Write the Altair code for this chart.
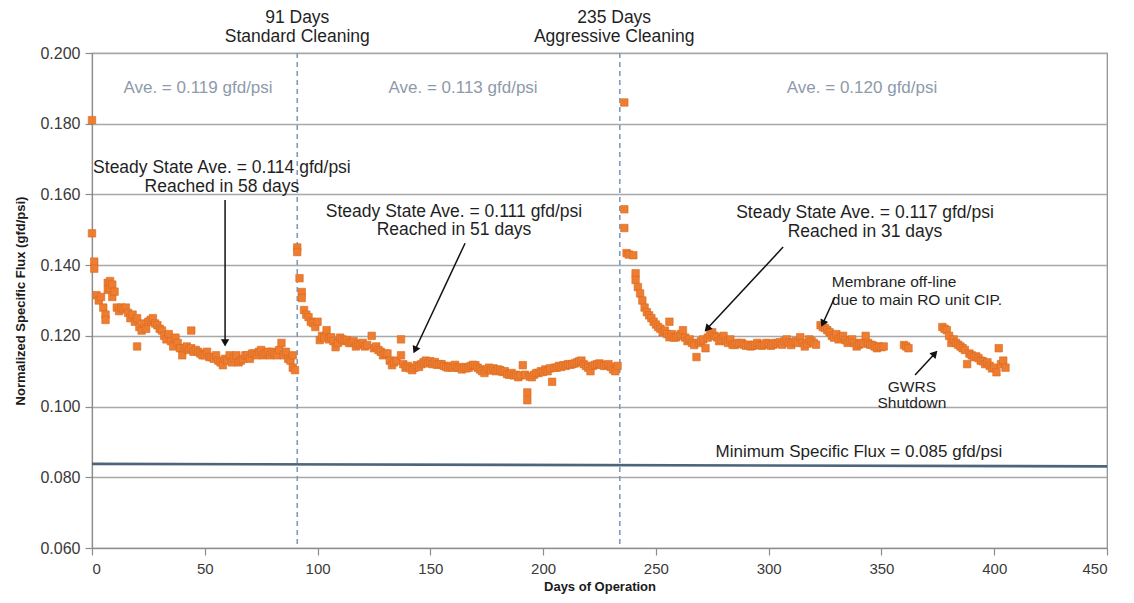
import math
import altair as alt
import pandas as pd

# ---------------- data ----------------
days1 = [
    0, 0, 1, 1, 2, 3, 4, 5, 6, 6,
    7, 7, 8, 8, 9, 9, 10, 11, 12, 13,
    14, 15, 16, 17, 18, 19, 20, 20, 21, 22,
    23, 24, 25, 26, 27, 28, 29, 30, 31, 32,
    33, 34, 35, 36, 37, 38, 39, 40, 41, 42,
    43, 44, 44, 45, 46, 47, 48, 49, 50, 51,
    52, 53, 54, 55, 56, 57, 58, 59, 60, 61,
    62, 63, 64, 65, 66, 67, 68, 69, 70, 71,
    72, 73, 74, 75, 76, 77, 78, 79, 80, 81,
    82, 83, 84, 85, 86, 87, 88, 89, 89, 90]
flux1 = [
    0.181, 0.149, 0.141, 0.139, 0.1315, 0.130, 0.131, 0.128, 0.126, 0.1245,
    0.135, 0.133, 0.1355, 0.1335, 0.1345, 0.131, 0.1325, 0.128, 0.127, 0.128,
    0.1275, 0.128, 0.1265, 0.125, 0.126, 0.124, 0.125, 0.117, 0.1225, 0.1215,
    0.1235, 0.122, 0.124, 0.1245, 0.125, 0.1235, 0.123, 0.122, 0.1215, 0.120,
    0.119, 0.1205, 0.1185, 0.117, 0.1195, 0.118, 0.1165, 0.1145, 0.1165, 0.117,
    0.116, 0.1215, 0.1165, 0.1155, 0.116, 0.1155, 0.115, 0.1145, 0.1145, 0.1155,
    0.114, 0.114, 0.1135, 0.1145, 0.113, 0.1125, 0.1117, 0.1135, 0.113, 0.1145,
    0.1125, 0.1137, 0.1145, 0.1125, 0.113, 0.1135, 0.1145, 0.1145, 0.1135, 0.115,
    0.115, 0.1145, 0.1155, 0.116, 0.1145, 0.115, 0.1155, 0.1145, 0.1155, 0.115,
    0.1145, 0.116, 0.118, 0.1145, 0.1155, 0.1135, 0.113, 0.111, 0.1145, 0.1103]

days2 = [
    91, 91, 92, 93, 93, 94, 95, 96, 97, 98,
    99, 100, 101, 102, 103, 104, 105, 106, 107, 108,
    109, 110, 111, 112, 113, 114, 115, 116, 117, 118,
    119, 120, 121, 122, 124, 125, 126, 127, 128, 129,
    130, 131, 132, 133, 134, 135, 137, 137, 138, 139,
    140, 141, 142, 143, 144, 145, 146, 147, 148, 149,
    150, 151, 152, 153, 154, 155, 156, 157, 158, 159,
    160, 161, 162, 163, 164, 165, 166, 167, 168, 169,
    170, 171, 172, 173, 174, 175, 176, 177, 178, 179,
    180, 181, 182, 183, 184, 185, 186, 187, 188, 189,
    190, 191, 192, 193, 193, 194, 195, 196, 197, 198,
    199, 200, 201, 202, 203, 204, 205, 206, 207, 208,
    209, 210, 211, 212, 213, 214, 215, 216, 217, 218,
    219, 220, 221, 222, 223, 224, 225, 226, 227, 228,
    229, 230, 231, 232, 233]
flux2 = [
    0.145, 0.1437, 0.1363, 0.1324, 0.1307, 0.1273, 0.126, 0.1253, 0.124, 0.1236,
    0.1225, 0.124, 0.1188, 0.120, 0.1195, 0.1216, 0.119, 0.1196, 0.1185, 0.1168,
    0.118, 0.1195, 0.119, 0.1185, 0.1188, 0.118, 0.118, 0.1185, 0.117, 0.1178,
    0.1175, 0.118, 0.117, 0.1174, 0.120, 0.1165, 0.117, 0.116, 0.1155, 0.1145,
    0.115, 0.115, 0.113, 0.1117, 0.1125, 0.113, 0.119, 0.1145, 0.112, 0.111,
    0.1115, 0.1108, 0.1103, 0.111, 0.1117, 0.1112, 0.112, 0.1125, 0.113, 0.1122,
    0.1128, 0.112, 0.1126, 0.1118, 0.112, 0.112, 0.1115, 0.1112, 0.111, 0.1115,
    0.111, 0.1118, 0.111, 0.111, 0.1105, 0.1112, 0.1108, 0.111, 0.1115, 0.1118,
    0.1117, 0.111, 0.1105, 0.110, 0.1095, 0.1105, 0.111, 0.1102, 0.1108, 0.110,
    0.1105, 0.1103, 0.1098, 0.110, 0.1092, 0.109, 0.1095, 0.1088, 0.109, 0.1083,
    0.1088, 0.1117, 0.109, 0.104, 0.1018, 0.1085, 0.1083, 0.109, 0.1095, 0.1095,
    0.110, 0.1098, 0.1105, 0.110, 0.1108, 0.107, 0.111, 0.111, 0.1115, 0.1112,
    0.1117, 0.1115, 0.112, 0.1118, 0.112, 0.1122, 0.1125, 0.1128, 0.113, 0.112,
    0.1115, 0.111, 0.110, 0.1115, 0.1118, 0.112, 0.1122, 0.1118, 0.1115, 0.1117,
    0.112, 0.1112, 0.1105, 0.110, 0.1115]

days3 = [
    236, 236, 236, 237, 238, 240, 241, 241, 242, 243,
    244, 245, 246, 247, 248, 249, 250, 251, 252, 253,
    254, 255, 256, 256, 257, 258, 259, 260, 261, 262,
    263, 264, 265, 266, 267, 268, 269, 270, 271, 272,
    273, 274, 275, 276, 277, 278, 279, 280, 281, 282,
    283, 284, 285, 286, 287, 288, 289, 290, 291, 292,
    293, 294, 295, 296, 297, 298, 299, 300, 301, 302,
    303, 304, 305, 306, 307, 308, 309, 310, 311, 312,
    313, 314, 315, 316, 317, 318, 319, 320, 321, 323,
    324, 325, 326, 327, 328, 329, 330, 331, 332, 333,
    334, 335, 336, 337, 338, 339, 340, 341, 342, 343,
    344, 345, 346, 347, 348, 349, 350, 351, 360, 361,
    362, 377, 378, 379, 380, 381, 382, 383, 384, 385,
    386, 387, 388, 389, 390, 391, 392, 393, 394, 395,
    396, 397, 398, 399, 400, 401, 402, 403, 404, 405]
flux3 = [
    0.186, 0.1558, 0.1505, 0.1434, 0.143, 0.1428, 0.1377, 0.1358, 0.1338, 0.132,
    0.130, 0.128, 0.1267, 0.1258, 0.125, 0.124, 0.1232, 0.1225, 0.122, 0.121,
    0.1215, 0.1205, 0.124, 0.1196, 0.1205, 0.1195, 0.1196, 0.120, 0.1205, 0.1216,
    0.1195, 0.1185, 0.119, 0.118, 0.1174, 0.114, 0.118, 0.1185, 0.119, 0.1165,
    0.1195, 0.1205, 0.121, 0.120, 0.1196, 0.1185, 0.119, 0.120, 0.1185, 0.118,
    0.119, 0.1175, 0.1174, 0.118, 0.1178, 0.118, 0.1175, 0.1172, 0.1175, 0.117,
    0.1172, 0.1175, 0.118, 0.1174, 0.1172, 0.1175, 0.118, 0.1178, 0.1172, 0.1175,
    0.118, 0.1178, 0.1182, 0.1175, 0.1185, 0.119, 0.118, 0.1174, 0.1182, 0.1185,
    0.118, 0.1196, 0.118, 0.117, 0.1178, 0.119, 0.1185, 0.118, 0.1175, 0.123,
    0.1225, 0.1222, 0.1216, 0.121, 0.120, 0.1195, 0.1205, 0.119, 0.1195, 0.120,
    0.1188, 0.118, 0.1185, 0.119, 0.118, 0.117, 0.1175, 0.118, 0.1178, 0.120,
    0.118, 0.1175, 0.1174, 0.117, 0.1165, 0.117, 0.1168, 0.117, 0.1174, 0.117,
    0.1165, 0.1225, 0.122, 0.1216, 0.120, 0.118, 0.119, 0.118, 0.1175, 0.117,
    0.1165, 0.116, 0.112, 0.115, 0.1145, 0.114, 0.1142, 0.1137, 0.113, 0.1128,
    0.112, 0.1125, 0.1115, 0.1108, 0.111, 0.1097, 0.1165, 0.112, 0.113, 0.111]

assert len(days1) == len(flux1)
assert len(days2) == len(flux2)
assert len(days3) == len(flux3)

cleaning_days = [91, 234]
min_flux_days = [0, 450]
min_flux_vals = [0.0838, 0.0831]

x_ticks = [0, 50, 100, 150, 200, 250, 300, 350, 400, 450]
y_ticks = [0.06, 0.08, 0.10, 0.12, 0.14, 0.16, 0.18, 0.20]

header_texts = ["91 Days", "Standard Cleaning", "235 Days", "Aggressive Cleaning"]
header_days = [91, 91, 231.5, 231.5]
header_vals = [0.2099, 0.2045, 0.2099, 0.2045]

ave_texts = ["Ave. = 0.119 gfd/psi", "Ave. = 0.113 gfd/psi", "Ave. = 0.120 gfd/psi"]
ave_days = [47, 164.5, 341.4]
ave_vals = [0.1901, 0.1901, 0.1901]

note_texts = ["Steady State Ave. = 0.114 gfd/psi", "Reached in 58 days",
              "Steady State Ave. = 0.111 gfd/psi", "Reached in 51 days",
              "Steady State Ave. = 0.117 gfd/psi", "Reached in 31 days"]
note_days = [57.6, 57.6, 160.5, 160.5, 342.7, 342.7]
note_vals = [0.1675, 0.1621, 0.1550, 0.1499, 0.1547, 0.1494]

gwrs_texts = ["GWRS", "Shutdown"]
gwrs_days = [363.5, 363.5]
gwrs_vals = [0.1055, 0.1010]

memb_texts = ["Membrane off-line", "due to main RO unit CIP."]
memb_days = [328, 328]
memb_vals = [0.1352, 0.1301]

minflux_text = ["Minimum  Specific Flux = 0.085 gfd/psi"]
minflux_text_day = [340.0]
minflux_text_val = [0.0871]

arrow_x1 = [59.0, 165.4, 306.4, 329.4, 364.9]
arrow_y1 = [0.1584, 0.1462, 0.1451, 0.1310, 0.1089]
arrow_x2 = [59.0, 143.2, 272.7, 324.0, 373.7]
arrow_y2 = [0.1180, 0.1160, 0.1220, 0.1235, 0.1150]

# ---------------- layout ----------------
W, H = 1015, 495
XD = [0, 450]
YD = [0.06, 0.20]
ORANGE = "#EE7D31"
FONT = "Liberation Sans"
AXFONT = "Liberation Sans"

xs = alt.Scale(domain=XD, nice=False, zero=False)
ys = alt.Scale(domain=YD, nice=False, zero=False)

pts = pd.DataFrame({
    "day": days1 + days2 + days3,
    "flux": flux1 + flux2 + flux3,
})

base_x = alt.X("day:Q", scale=xs,
               axis=alt.Axis(values=x_ticks, title="Days of Operation", grid=False,
                             format="d", tickSize=7, labelPadding=6,
                             titlePadding=4))
base_y = alt.Y("flux:Q", scale=ys,
               axis=alt.Axis(values=y_ticks, title="Normalized Specific Flux (gfd/psi)",
                             format=".3f", grid=True, tickSize=7, labelPadding=5,
                             titlePadding=12))

scatter = alt.Chart(pts).mark_square(size=56, color=ORANGE, opacity=1,
                                     stroke="#D9691E", strokeWidth=0.6).encode(
    x=base_x, y=base_y)

vlines = alt.Chart(pd.DataFrame({"day": cleaning_days})).mark_rule(
    color="#7F9BBE", strokeDash=[5, 4], strokeWidth=1.6).encode(
    x=alt.X("day:Q", scale=xs))

minline = alt.Chart(pd.DataFrame({"day": min_flux_days, "flux": min_flux_vals})).mark_line(
    color="#4E6478", strokeWidth=2.6).encode(
    x=alt.X("day:Q", scale=xs), y=alt.Y("flux:Q", scale=ys))


def text_layer(texts, days, vals, size, color, align="center", font=FONT):
    df = pd.DataFrame({"t": texts, "day": days, "flux": vals})
    return alt.Chart(df).mark_text(fontSize=size, color=color, align=align,
                                   baseline="middle", font=font).encode(
        x=alt.X("day:Q", scale=xs), y=alt.Y("flux:Q", scale=ys), text="t:N")


headers = text_layer(header_texts, header_days, header_vals, 17.5, "#1F1F1F")
aves = text_layer(ave_texts, ave_days, ave_vals, 17, "#8E9AAA")
notes = text_layer(note_texts, note_days, note_vals, 17.5, "#1F1F1F")
gwrs = text_layer(gwrs_texts, gwrs_days, gwrs_vals, 15.5, "#1F1F1F")
memb = text_layer(memb_texts, memb_days, memb_vals, 15.5, "#1F1F1F", align="left")
mintxt = text_layer(minflux_text, minflux_text_day, minflux_text_val, 17, "#1F1F1F")

# arrows
px_per_day = W / (XD[1] - XD[0])
px_per_val = H / (YD[1] - YD[0])
angles = []
for a, b, c, d in zip(arrow_x1, arrow_y1, arrow_x2, arrow_y2):
    dx = (c - a) * px_per_day
    dy = -(d - b) * px_per_val
    angles.append(math.degrees(math.atan2(dx, -dy)) % 360)

arr_df = pd.DataFrame({"x1": arrow_x1, "y1": arrow_y1, "x2": arrow_x2,
                       "y2": arrow_y2, "ang": angles})
arrow_lines = alt.Chart(arr_df).mark_rule(color="#111111", strokeWidth=1.5).encode(
    x=alt.X("x1:Q", scale=xs), y=alt.Y("y1:Q", scale=ys),
    x2="x2:Q", y2="y2:Q")
arrow_heads = alt.Chart(arr_df).mark_point(shape="triangle-up", filled=True,
                                           color="#111111", size=70, opacity=1).encode(
    x=alt.X("x2:Q", scale=xs), y=alt.Y("y2:Q", scale=ys),
    angle=alt.Angle("ang:Q", scale=None))

chart = alt.layer(
    minline, vlines, scatter, arrow_lines, arrow_heads,
    headers, aves, notes, gwrs, memb, mintxt,
).properties(
    width=W, height=H,
    autosize=alt.AutoSizeParams(type="none"),
    padding={"left": 84, "top": 45, "right": 19, "bottom": 47},
).configure_view(
    stroke="#8C8C8C", strokeWidth=1.2,
).configure_axis(
    domainColor="#8C8C8C", domainWidth=1.2, tickColor="#8C8C8C", tickWidth=1.2,
    gridColor="#A8A8A8", gridWidth=1.4,
    labelFont=AXFONT, labelFontSize=16, labelColor="#3A3A3A",
    titleFont=AXFONT, titleFontSize=13, titleFontWeight="bold", titleColor="#1A1A1A",
).configure_axisX(
    labelFontSize=15,
)

chart.save("out.html", embed_options={"renderer": "svg", "actions": False})
